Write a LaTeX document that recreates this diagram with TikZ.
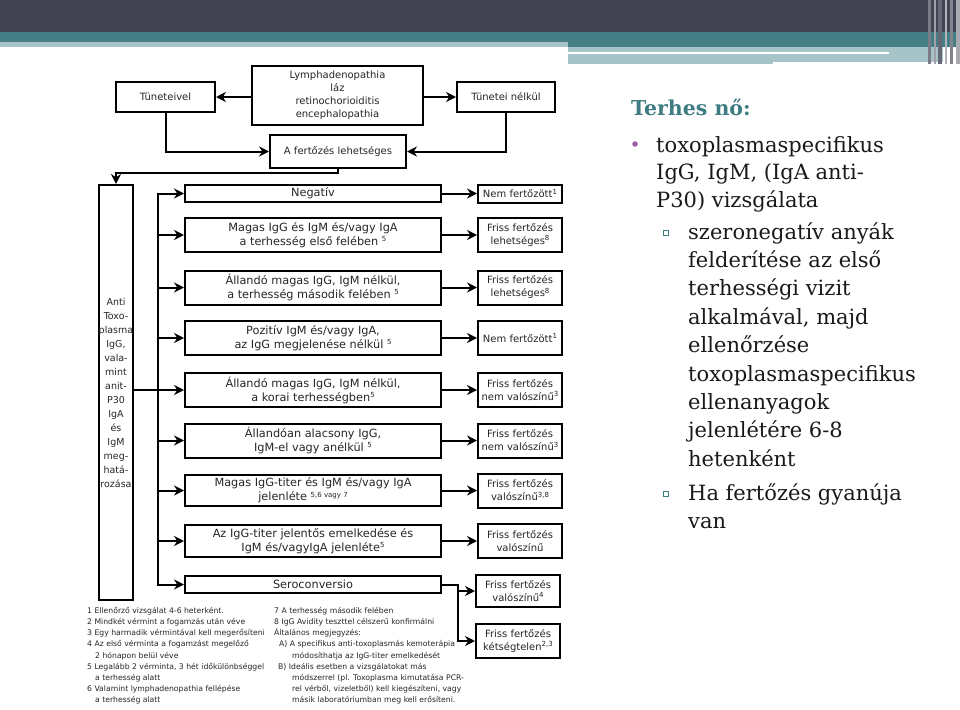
\documentclass[tikz,border=0pt]{standalone}
\usepackage{fontspec}
\setmainfont{DejaVu Serif}
\newfontfamily\chartfont{DejaVu Sans}
\usetikzlibrary{arrows.meta, positioning, calc}
\definecolor{hdrdark}{RGB}{65,66,82}
\definecolor{hdrteal}{RGB}{69,127,133}
\definecolor{hdrlight}{RGB}{166,195,199}
\definecolor{titleteal}{RGB}{62,124,130}
\definecolor{bulletpurple}{RGB}{156,92,166}
\newcommand{\fnr}[1]{\raisebox{3.8pt}{\fontsize{7}{7}\selectfont #1}}

\begin{document}
\begin{tikzpicture}[x=1pt, y=-1pt,
    box/.style={draw, line width=2pt, inner sep=1pt, align=center, text=black!85,
                font={\chartfont\fontsize{10}{13}\selectfont}},
    mid/.style={box, minimum width=256pt, minimum height=34pt,
                font={\chartfont\fontsize{11.3}{14}\selectfont}},
    res/.style={box, minimum width=84pt, minimum height=34pt},
    arr/.style={-{Stealth[length=10pt, width=10pt]}, line width=2pt},
    ln/.style={line width=2pt},
    body/.style={anchor=base west, inner sep=0pt, text=black!90,
                 font={\fontsize{21}{25}\selectfont}},
    note/.style={anchor=north west, inner sep=0pt, align=left, text=black!85,
                 font={\chartfont\fontsize{7.7}{11.2}\selectfont}},
]
\useasboundingbox (0,0) rectangle (960,709);
\fill[white] (0,0) rectangle (960,709);

% slide header
\fill[hdrdark] (0,0) rectangle (960,32);
\fill[hdrteal] (0,32) rectangle (960,47);
\fill[hdrlight] (0,42) rectangle (568,47);
\fill[hdrlight] (568,47) rectangle (943,62);
\fill[hdrlight] (568,62) rectangle (773,64);
\fill[white] (568,52) rectangle (889,54.5);
\foreach \xa/\w/\c in {928/3/hdrdark!70!white, 934/2/hdrdark!50!white, 938/4/hdrdark!80!white,
                       945/2/hdrdark!40!white, 950/3/hdrdark!65!white, 956/4/hdrdark!45!white}
  \fill[\c] (\xa,0) rectangle ++(\w,64);

% flowchart
\node[box, minimum width=171pt, minimum height=59pt] (sym) at (337.5,95.5)
  {Lymphadenopathia\\láz\\retinochorioiditis\\encephalopathia};
\node[box, minimum width=99pt, minimum height=30pt] (tv) at (165.5,97) {Tüneteivel};
\node[box, minimum width=98pt, minimum height=30pt] (tn) at (506,97) {Tünetei nélkül};
\node[box, minimum width=136pt, minimum height=33pt] (lh) at (338,151.5) {A fertőzés lehetséges};
\node[box, minimum width=34pt, minimum height=415pt, inner sep=0pt,
      font={\chartfont\fontsize{9.5}{14}\selectfont}] (anti) at (116,392.5)
  {Anti\\Toxo-\\plasma\\IgG,\\vala-\\mint\\anit-\\P30\\IgA\\és\\IgM\\meg-\\hatá-\\rozása};

\node[mid, minimum height=17pt] (m1) at (313,193.5) {Negatív};
\node[mid] (m2) at (313,235) {Magas IgG és IgM és/vagy IgA\\a terhesség első felében \fnr{5}};
\node[mid] (m3) at (313,287.5) {Állandó magas IgG, IgM nélkül,\\a terhesség második felében \fnr{5}};
\node[mid] (m4) at (313,338) {Pozitív IgM és/vagy IgA,\\az IgG megjelenése nélkül \fnr{5}};
\node[mid] (m5) at (313,390) {Állandó magas IgG, IgM nélkül,\\a korai terhességben\fnr{5}};
\node[mid] (m6) at (313,440.5) {Állandóan alacsony IgG,\\IgM-el vagy anélkül \fnr{5}};
\node[mid, minimum height=31pt] (m7) at (313,490.5) {Magas IgG-titer és IgM és/vagy IgA\\jelenléte \fnr{5,6 vagy 7}\hspace*{20pt}};
\node[mid, minimum height=32pt] (m8) at (313,541) {Az IgG-titer jelentős emelkedése és\\IgM és/vagyIgA jelenléte\fnr{5}};
\node[mid, minimum height=17pt] (m9) at (313,584.5) {Seroconversio};

\node[res, minimum height=18pt, right=35pt of m1] (r1) {Nem fertőzött\fnr{1}};
\node[res, right=35pt of m2] (r2) {Friss fertőzés\\lehetséges\fnr{8}};
\node[res, right=35pt of m3] (r3) {Friss fertőzés\\lehetséges\fnr{8}};
\node[res, right=35pt of m4] (r4) {Nem fertőzött\fnr{1}};
\node[res, right=35pt of m5] (r5) {Friss fertőzés\\nem valószínű\fnr{3}};
\node[res, right=35pt of m6] (r6) {Friss fertőzés\\nem valószínű\fnr{3}};
\node[res, right=35pt of m7] (r7) {Friss fertőzés\\valószínű\fnr{3,8}};
\node[res, right=35pt of m8] (r8) {Friss fertőzés\\valószínű};
\node[res, minimum height=32pt] (r9) at (518,591) {Friss fertőzés\\valószínű\fnr{4}};
\node[res] (r10) at (518,641) {Friss fertőzés\\kétségtelen\fnr{2,3}};

\draw[arr] (sym.west |- tv.east) -- (tv.east);
\draw[arr] (sym.east |- tn.west) -- (tn.west);
\draw[arr] (tv.south) |- (lh.west);
\draw[arr] (tn.south) |- (lh.east);
\draw[arr] (lh.south) -- ++(0,4) -| (anti.north);

\coordinate (bus) at (158,0);
\draw[ln, line cap=rect] (m1.west -| bus) -- (m9.west -| bus);
\foreach \i in {1,2,3,4,6,7,8,9}
  \draw[arr] (m\i.west -| bus) -- (m\i.west);
\draw[arr] (anti.east |- m5.west) -- (m5.west);
\foreach \i in {1,...,8}
  \draw[arr] (m\i.east) -- (r\i.west);
\draw[arr] (m9.east) -- ++(16,0) |- (r9.west);
\draw[arr] (m9.east) -- ++(16,0) |- (r10.west);

% footnotes
\node[note] (notesa) at (87,607) {1 Ellenőrző vizsgálat 4-6 heterként.\\2 Mindkét vérmint a fogamzás után véve\\3 Egy harmadik vérmintával kell megerősíteni\\4 Az első vérminta a fogamzást megelőző\\\hspace*{8pt}2 hónapon belül véve\\5 Legalább 2 vérminta, 3 hét időkülönbséggel\\\hspace*{8pt}a terhesség alatt\\6 Valamint lymphadenopathia fellépése\\\hspace*{8pt}a terhesség alatt};
\node[note] (notesb) at (274,607) {7 A terhesség második felében\\8 IgG Avidity teszttel célszerű konfirmálni\\Általános megjegyzés:\\\hspace*{5pt}A) A specifikus anti-toxoplasmás kemoterápia\\\hspace*{18pt}módosíthatja az IgG-titer emelkedését\\\hspace*{4pt}B) Ideális esetben a vizsgálatokat más\\\hspace*{18pt}módszerrel (pl. Toxoplasma kimutatása PCR-\\\hspace*{18pt}rel vérből, vizeletből) kell kiegészíteni, vagy\\\hspace*{18pt}másik laboratóriumban meg kell erősíteni.};

% slide text
\node[anchor=base west, inner sep=0pt, text=titleteal,
      font={\bfseries\fontsize{20.5}{24}\selectfont}] (title) at (631,115) {Terhes nő:};
\node[circle, fill=bulletpurple, inner sep=0pt, minimum size=5.5pt] (dot) at (635,144) {};
\foreach \txt [count=\k from 0] in {toxoplasmaspecifikus, {IgG, IgM, (IgA anti-}, {P30) vizsgálata}}
  \node[body] (ba\k) at (656,{152+27.5*\k}) {\txt};
\node[draw=titleteal, line width=0.6pt, inner sep=0pt, minimum size=5pt] (sqa) at (666,233) {};
\foreach \txt [count=\k from 0] in {szeronegatív anyák, felderítése az első, terhességi vizit,
    {alkalmával, majd}, ellenőrzése, toxoplasmaspecifikus, ellenanyagok, jelenlétére 6-8, hetenként}
  \node[body] (sa\k) at (688,{239+28.4*\k}) {\txt};
\node[draw=titleteal, line width=0.6pt, inner sep=0pt, minimum size=5pt] (sqb) at (666,494) {};
\foreach \txt [count=\k from 0] in {Ha fertőzés gyanúja, van}
  \node[body] (sb\k) at (688,{500+28.4*\k}) {\txt};
\end{tikzpicture}
\end{document}
